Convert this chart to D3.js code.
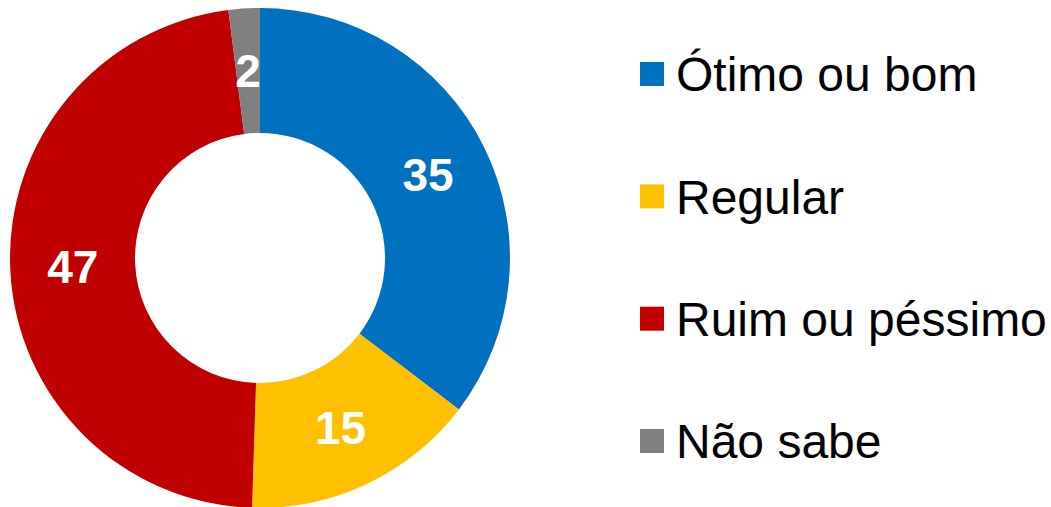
<!DOCTYPE html>
<html lang="pt">
<head>
    <meta charset="UTF-8">
    <title>Avaliação</title>
    <style>
        body { margin: 0; background: #fff; }
    </style>
</head>
<body>
    <div id="chart"></div>

    <script src="https://cdn.jsdelivr.net/npm/d3@7"></script>

    <script>
        const categories = ["Ótimo ou bom", "Regular", "Ruim ou péssimo", "Não sabe"];
        const values = [35, 15, 47, 2];
        const colors = ["#0070C0", "#FFC000", "#C00000", "#808080"];

        const width = 1051, height = 507;
        const cx = 260, cy = 258;
        const outerR = 250, innerR = 125;

        const svg = d3.select("#chart")
            .append("svg")
            .attr("width", width)
            .attr("height", height);

        const pie = d3.pie().sort(null).value(d => d);
        const arc = d3.arc().innerRadius(innerR).outerRadius(outerR);

        const g = svg.append("g")
            .attr("transform", `translate(${cx},${cy})`);

        const slices = g.selectAll(".slice")
            .data(pie(values))
            .enter()
            .append("g")
            .attr("class", "slice");

        slices.append("path")
            .attr("d", arc)
            .attr("fill", (d, i) => colors[i]);

        slices.append("text")
            .attr("transform", d => `translate(${arc.centroid(d)})`)
            .attr("dy", "0.36em")
            .style("text-anchor", "middle")
            .style("font-family", "Arial, 'Liberation Sans', sans-serif")
            .style("font-weight", "bold")
            .style("font-size", "46px")
            .style("fill", "#fff")
            .text(d => d.data);

        // legend
        const y = d3.scalePoint()
            .domain(categories)
            .range([74, 441]);

        const legend = svg.selectAll(".legend")
            .data(categories)
            .enter()
            .append("g")
            .attr("class", "legend")
            .attr("transform", d => `translate(640,${y(d)})`);

        legend.append("rect")
            .attr("x", 0)
            .attr("y", -12)
            .attr("width", 24)
            .attr("height", 24)
            .attr("fill", (d, i) => colors[i]);

        legend.append("text")
            .attr("x", 36)
            .attr("dy", "0.36em")
            .style("font-family", "Arial, 'Liberation Sans', sans-serif")
            .style("font-size", "48px")
            .style("fill", "#000")
            .text(d => d);
    </script>
</body>
</html>
